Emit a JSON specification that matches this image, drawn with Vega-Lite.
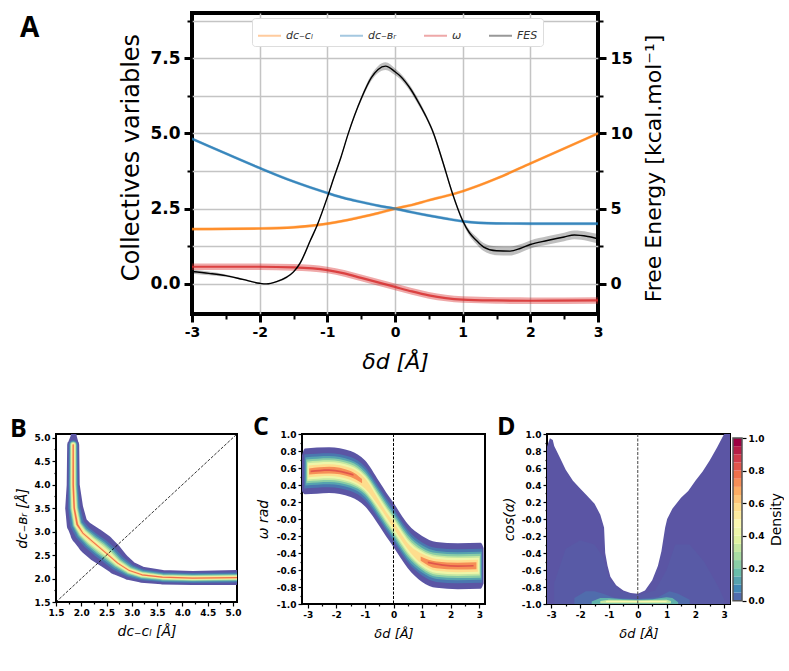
{"$schema":"https://vega.github.io/schema/vega-lite/v6.json","background":"white","padding":{"left":9,"top":9,"right":0,"bottom":0},"bounds":"flush","spacing":421,
"config":{"view":{"continuousWidth":200,"continuousHeight":200},"font":"DejaVu Sans","axis":{"labelFont":"DejaVu Sans","labelFontWeight":"bold","titleFont":"DejaVu Sans","titleFontWeight":"normal","labelColor":"black","titleColor":"black","tickColor":"black","domain":false,"grid":false,"labelOverlap":false,"labelBound":false,"labelFlush":false,"tickCount":60},"title":{"font":"Open Sans","fontWeight":"bold","color":"black","anchor":"start","frame":"group","offset":0,"baseline":"alphabetic"}},
"datasets":{
"cv":[
{"x":-3,"s":"dᴄ₋ᴄₗ","v":1.82,"lo":1.77,"hi":1.87},{"x":-2,"s":"dᴄ₋ᴄₗ","v":1.84,"lo":1.79,"hi":1.89},{"x":-1.5,"s":"dᴄ₋ᴄₗ","v":1.88,"lo":1.83,"hi":1.93},{"x":-1,"s":"dᴄ₋ᴄₗ","v":2.0,"lo":1.95,"hi":2.05},{"x":-0.75,"s":"dᴄ₋ᴄₗ","v":2.1,"lo":2.05,"hi":2.15},{"x":-0.5,"s":"dᴄ₋ᴄₗ","v":2.22,"lo":2.17,"hi":2.27},{"x":-0.25,"s":"dᴄ₋ᴄₗ","v":2.35,"lo":2.3,"hi":2.4},{"x":0,"s":"dᴄ₋ᴄₗ","v":2.5,"lo":2.45,"hi":2.55},{"x":0.25,"s":"dᴄ₋ᴄₗ","v":2.62,"lo":2.57,"hi":2.67},{"x":0.5,"s":"dᴄ₋ᴄₗ","v":2.78,"lo":2.73,"hi":2.83},{"x":0.75,"s":"dᴄ₋ᴄₗ","v":2.92,"lo":2.87,"hi":2.97},{"x":1,"s":"dᴄ₋ᴄₗ","v":3.08,"lo":3.03,"hi":3.13},{"x":1.5,"s":"dᴄ₋ᴄₗ","v":3.5,"lo":3.45,"hi":3.55},{"x":2,"s":"dᴄ₋ᴄₗ","v":4.0,"lo":3.95,"hi":4.05},{"x":2.5,"s":"dᴄ₋ᴄₗ","v":4.5,"lo":4.45,"hi":4.55},{"x":3,"s":"dᴄ₋ᴄₗ","v":5.0,"lo":4.95,"hi":5.05},
{"x":-3,"s":"dᴄ₋ʙᵣ","v":4.82,"lo":4.77,"hi":4.87},{"x":-2.5,"s":"dᴄ₋ʙᵣ","v":4.33,"lo":4.28,"hi":4.38},{"x":-2,"s":"dᴄ₋ʙᵣ","v":3.85,"lo":3.8,"hi":3.9},{"x":-1.5,"s":"dᴄ₋ʙᵣ","v":3.4,"lo":3.35,"hi":3.45},{"x":-1,"s":"dᴄ₋ʙᵣ","v":3.02,"lo":2.97,"hi":3.07},{"x":-0.75,"s":"dᴄ₋ʙᵣ","v":2.85,"lo":2.8,"hi":2.9},{"x":-0.5,"s":"dᴄ₋ʙᵣ","v":2.72,"lo":2.67,"hi":2.77},{"x":-0.25,"s":"dᴄ₋ʙᵣ","v":2.6,"lo":2.55,"hi":2.65},{"x":0,"s":"dᴄ₋ʙᵣ","v":2.5,"lo":2.45,"hi":2.55},{"x":0.25,"s":"dᴄ₋ʙᵣ","v":2.38,"lo":2.33,"hi":2.43},{"x":0.5,"s":"dᴄ₋ʙᵣ","v":2.27,"lo":2.22,"hi":2.32},{"x":0.75,"s":"dᴄ₋ʙᵣ","v":2.17,"lo":2.12,"hi":2.22},{"x":1,"s":"dᴄ₋ʙᵣ","v":2.08,"lo":2.03,"hi":2.13},{"x":1.5,"s":"dᴄ₋ʙᵣ","v":2.01,"lo":1.96,"hi":2.06},{"x":2,"s":"dᴄ₋ʙᵣ","v":2.0,"lo":1.95,"hi":2.05},{"x":3,"s":"dᴄ₋ʙᵣ","v":2.0,"lo":1.95,"hi":2.05},
{"x":-3,"s":"ω","v":0.57,"lo":0.46,"hi":0.68},{"x":-2,"s":"ω","v":0.57,"lo":0.46,"hi":0.68},{"x":-1.5,"s":"ω","v":0.55,"lo":0.44,"hi":0.66},{"x":-1,"s":"ω","v":0.46,"lo":0.35,"hi":0.57},{"x":-0.75,"s":"ω","v":0.35,"lo":0.24,"hi":0.46},{"x":-0.5,"s":"ω","v":0.2,"lo":0.09,"hi":0.31},{"x":-0.25,"s":"ω","v":0.05,"lo":-0.06,"hi":0.16},{"x":0,"s":"ω","v":-0.1,"lo":-0.21,"hi":0.01},{"x":0.25,"s":"ω","v":-0.25,"lo":-0.36,"hi":-0.14},{"x":0.5,"s":"ω","v":-0.38,"lo":-0.49,"hi":-0.27},{"x":0.75,"s":"ω","v":-0.47,"lo":-0.58,"hi":-0.36},{"x":1,"s":"ω","v":-0.52,"lo":-0.63,"hi":-0.41},{"x":1.5,"s":"ω","v":-0.55,"lo":-0.66,"hi":-0.44},{"x":2,"s":"ω","v":-0.56,"lo":-0.67,"hi":-0.45},{"x":3,"s":"ω","v":-0.55,"lo":-0.66,"hi":-0.44}],
"fes":[
{"x":-3,"s":"FES","v":0.82,"lo":0.68,"hi":0.96},{"x":-2.75,"s":"FES","v":0.7,"lo":0.58,"hi":0.82},{"x":-2.5,"s":"FES","v":0.55,"lo":0.47,"hi":0.63},{"x":-2.25,"s":"FES","v":0.3,"lo":0.24,"hi":0.36},{"x":-2,"s":"FES","v":0.04,"lo":0,"hi":0.08},{"x":-1.9,"s":"FES","v":0,"lo":-0.03,"hi":0.03},{"x":-1.75,"s":"FES","v":0.15,"lo":0.1,"hi":0.2},{"x":-1.6,"s":"FES","v":0.45,"lo":0.38,"hi":0.52},{"x":-1.5,"s":"FES","v":0.8,"lo":0.72,"hi":0.88},{"x":-1.4,"s":"FES","v":1.4,"lo":1.3,"hi":1.5},{"x":-1.25,"s":"FES","v":2.9,"lo":2.8,"hi":3.0},{"x":-1.15,"s":"FES","v":3.9,"lo":3.8,"hi":4.0},{"x":-1,"s":"FES","v":5.75,"lo":5.65,"hi":5.85},{"x":-0.9,"s":"FES","v":7.1,"lo":7,"hi":7.2},{"x":-0.8,"s":"FES","v":8.4,"lo":8.3,"hi":8.5},{"x":-0.69,"s":"FES","v":10,"lo":9.9,"hi":10.1},{"x":-0.5,"s":"FES","v":12.3,"lo":12.15,"hi":12.45},{"x":-0.35,"s":"FES","v":13.7,"lo":13.5,"hi":13.9},{"x":-0.25,"s":"FES","v":14.25,"lo":14.02,"hi":14.48},{"x":-0.14,"s":"FES","v":14.47,"lo":14.22,"hi":14.72},{"x":0,"s":"FES","v":14.1,"lo":13.88,"hi":14.32},{"x":0.08,"s":"FES","v":13.8,"lo":13.6,"hi":14},{"x":0.23,"s":"FES","v":12.95,"lo":12.75,"hi":13.15},{"x":0.33,"s":"FES","v":12.2,"lo":12,"hi":12.4},{"x":0.45,"s":"FES","v":11.2,"lo":11.05,"hi":11.35},{"x":0.57,"s":"FES","v":10,"lo":9.85,"hi":10.15},{"x":0.7,"s":"FES","v":8.2,"lo":8.05,"hi":8.35},{"x":0.85,"s":"FES","v":6,"lo":5.85,"hi":6.15},{"x":1,"s":"FES","v":4.2,"lo":4.05,"hi":4.35},{"x":1.1,"s":"FES","v":3.4,"lo":3.2,"hi":3.6},{"x":1.2,"s":"FES","v":2.9,"lo":2.65,"hi":3.15},{"x":1.31,"s":"FES","v":2.45,"lo":2.18,"hi":2.72},{"x":1.5,"s":"FES","v":2.2,"lo":1.9,"hi":2.5},{"x":1.7,"s":"FES","v":2.18,"lo":1.88,"hi":2.48},{"x":1.85,"s":"FES","v":2.35,"lo":2.07,"hi":2.63},{"x":2,"s":"FES","v":2.62,"lo":2.35,"hi":2.89},{"x":2.25,"s":"FES","v":2.88,"lo":2.6,"hi":3.16},{"x":2.5,"s":"FES","v":3.12,"lo":2.84,"hi":3.4},{"x":2.65,"s":"FES","v":3.25,"lo":2.96,"hi":3.54},{"x":2.85,"s":"FES","v":3.15,"lo":2.85,"hi":3.45},{"x":3,"s":"FES","v":3.0,"lo":2.68,"hi":3.32}],
"trail":[
{"i":0,"x":1.85,"y":5.04,"l":0.01,"w":0.12},{"i":1,"x":1.84,"y":4.85,"l":0.01,"w":0.24},{"i":2,"x":1.84,"y":4,"l":0.01,"w":0.26},{"i":3,"x":1.86,"y":3.5,"l":0.01,"w":0.36},{"i":4,"x":1.92,"y":3.15,"l":0.01,"w":0.42},{"i":5,"x":2.03,"y":2.97,"l":0.01,"w":0.5},{"i":6,"x":2.2,"y":2.8,"l":0.01,"w":0.58},{"i":7,"x":2.38,"y":2.65,"l":0.01,"w":0.6},{"i":8,"x":2.55,"y":2.5,"l":0.01,"w":0.55},{"i":9,"x":2.72,"y":2.33,"l":0.01,"w":0.48},{"i":10,"x":2.95,"y":2.17,"l":0.01,"w":0.38},{"i":11,"x":3.2,"y":2.08,"l":0.01,"w":0.32},{"i":12,"x":3.6,"y":2.03,"l":0.01,"w":0.29},{"i":13,"x":4.2,"y":2.01,"l":0.01,"w":0.28},{"i":14,"x":5.1,"y":2.02,"l":0.01,"w":0.3},
{"i":1,"x":1.84,"y":4.85,"l":0.07,"w":0.18},{"i":2,"x":1.84,"y":4,"l":0.07,"w":0.19},{"i":3,"x":1.86,"y":3.5,"l":0.07,"w":0.24},{"i":4,"x":1.92,"y":3.15,"l":0.07,"w":0.28},{"i":5,"x":2.03,"y":2.97,"l":0.07,"w":0.32},{"i":6,"x":2.2,"y":2.8,"l":0.07,"w":0.36},{"i":7,"x":2.38,"y":2.65,"l":0.07,"w":0.38},{"i":8,"x":2.55,"y":2.5,"l":0.07,"w":0.36},{"i":9,"x":2.72,"y":2.33,"l":0.07,"w":0.32},{"i":10,"x":2.95,"y":2.17,"l":0.07,"w":0.26},{"i":11,"x":3.2,"y":2.08,"l":0.07,"w":0.22},{"i":12,"x":3.6,"y":2.03,"l":0.07,"w":0.2},{"i":13,"x":4.2,"y":2.01,"l":0.07,"w":0.2},{"i":14,"x":5.1,"y":2.02,"l":0.07,"w":0.2},
{"i":1,"x":1.84,"y":4.85,"l":0.15,"w":0.14},{"i":2,"x":1.84,"y":4,"l":0.15,"w":0.16},{"i":3,"x":1.86,"y":3.5,"l":0.15,"w":0.18},{"i":4,"x":1.92,"y":3.15,"l":0.15,"w":0.2},{"i":5,"x":2.03,"y":2.97,"l":0.15,"w":0.24},{"i":6,"x":2.2,"y":2.8,"l":0.15,"w":0.28},{"i":7,"x":2.38,"y":2.65,"l":0.15,"w":0.3},{"i":8,"x":2.55,"y":2.5,"l":0.15,"w":0.28},{"i":9,"x":2.72,"y":2.33,"l":0.15,"w":0.24},{"i":10,"x":2.95,"y":2.17,"l":0.15,"w":0.2},{"i":11,"x":3.2,"y":2.08,"l":0.15,"w":0.17},{"i":12,"x":3.6,"y":2.03,"l":0.15,"w":0.16},{"i":13,"x":4.2,"y":2.01,"l":0.15,"w":0.15},{"i":14,"x":5.1,"y":2.02,"l":0.15,"w":0.15},
{"i":1,"x":1.84,"y":4.85,"l":0.25,"w":0.12},{"i":2,"x":1.84,"y":4,"l":0.25,"w":0.13},{"i":3,"x":1.86,"y":3.5,"l":0.25,"w":0.15},{"i":4,"x":1.92,"y":3.15,"l":0.25,"w":0.16},{"i":5,"x":2.03,"y":2.97,"l":0.25,"w":0.19},{"i":6,"x":2.2,"y":2.8,"l":0.25,"w":0.22},{"i":7,"x":2.38,"y":2.65,"l":0.25,"w":0.24},{"i":8,"x":2.55,"y":2.5,"l":0.25,"w":0.22},{"i":9,"x":2.72,"y":2.33,"l":0.25,"w":0.18},{"i":10,"x":2.95,"y":2.17,"l":0.25,"w":0.15},{"i":11,"x":3.2,"y":2.08,"l":0.25,"w":0.13},{"i":12,"x":3.6,"y":2.03,"l":0.25,"w":0.12},{"i":13,"x":4.2,"y":2.01,"l":0.25,"w":0.12},{"i":14,"x":5.1,"y":2.02,"l":0.25,"w":0.12},
{"i":1,"x":1.84,"y":4.85,"l":0.35,"w":0.1},{"i":2,"x":1.84,"y":4,"l":0.35,"w":0.1},{"i":3,"x":1.86,"y":3.5,"l":0.35,"w":0.12},{"i":4,"x":1.92,"y":3.15,"l":0.35,"w":0.13},{"i":5,"x":2.03,"y":2.97,"l":0.35,"w":0.15},{"i":6,"x":2.2,"y":2.8,"l":0.35,"w":0.17},{"i":7,"x":2.38,"y":2.65,"l":0.35,"w":0.18},{"i":8,"x":2.55,"y":2.5,"l":0.35,"w":0.16},{"i":9,"x":2.72,"y":2.33,"l":0.35,"w":0.13},{"i":10,"x":2.95,"y":2.17,"l":0.35,"w":0.11},{"i":11,"x":3.2,"y":2.08,"l":0.35,"w":0.1},{"i":12,"x":3.6,"y":2.03,"l":0.35,"w":0.09},{"i":13,"x":4.2,"y":2.01,"l":0.35,"w":0.09},{"i":14,"x":5.1,"y":2.02,"l":0.35,"w":0.09},
{"i":1,"x":1.84,"y":4.85,"l":0.45,"w":0.08},{"i":2,"x":1.84,"y":4,"l":0.45,"w":0.08},{"i":3,"x":1.86,"y":3.5,"l":0.45,"w":0.09},{"i":4,"x":1.92,"y":3.15,"l":0.45,"w":0.1},{"i":5,"x":2.03,"y":2.97,"l":0.45,"w":0.11},{"i":6,"x":2.2,"y":2.8,"l":0.45,"w":0.12},{"i":7,"x":2.38,"y":2.65,"l":0.45,"w":0.12},{"i":8,"x":2.55,"y":2.5,"l":0.45,"w":0.11},{"i":9,"x":2.72,"y":2.33,"l":0.45,"w":0.09},{"i":10,"x":2.95,"y":2.17,"l":0.45,"w":0.08},{"i":11,"x":3.2,"y":2.08,"l":0.45,"w":0.07},{"i":12,"x":3.6,"y":2.03,"l":0.45,"w":0.07},{"i":13,"x":4.2,"y":2.01,"l":0.45,"w":0.07},{"i":14,"x":5.1,"y":2.02,"l":0.45,"w":0.07},
{"i":1,"x":1.84,"y":4.85,"l":0.6,"w":0.05},{"i":2,"x":1.84,"y":4,"l":0.6,"w":0.06},{"i":3,"x":1.86,"y":3.5,"l":0.6,"w":0.06},{"i":4,"x":1.92,"y":3.15,"l":0.6,"w":0.07},{"i":5,"x":2.03,"y":2.97,"l":0.6,"w":0.07},{"i":6,"x":2.2,"y":2.8,"l":0.6,"w":0.06},{"i":7,"x":2.38,"y":2.65,"l":0.6,"w":0.05},{"i":8,"x":2.55,"y":2.5,"l":0.6,"w":0.05},{"i":9,"x":2.72,"y":2.33,"l":0.6,"w":0.05},{"i":10,"x":2.95,"y":2.17,"l":0.6,"w":0.05},{"i":11,"x":3.2,"y":2.08,"l":0.6,"w":0.05},{"i":12,"x":3.6,"y":2.03,"l":0.6,"w":0.05},{"i":13,"x":4.2,"y":2.01,"l":0.6,"w":0.05},{"i":14,"x":5.1,"y":2.02,"l":0.6,"w":0.05},
{"i":1,"x":1.84,"y":4.85,"l":0.8,"w":0.025},{"i":2,"x":1.84,"y":4,"l":0.8,"w":0.03},{"i":3,"x":1.86,"y":3.5,"l":0.8,"w":0.03},{"i":4,"x":1.92,"y":3.15,"l":0.8,"w":0.035},{"i":5,"x":2.03,"y":2.97,"l":0.8,"w":0},{"i":9,"x":2.72,"y":2.33,"l":0.8,"w":0},{"i":10,"x":2.95,"y":2.17,"l":0.8,"w":0.02},{"i":11,"x":3.2,"y":2.08,"l":0.8,"w":0.025},{"i":12,"x":3.6,"y":2.03,"l":0.8,"w":0.025},{"i":13,"x":4.2,"y":2.01,"l":0.8,"w":0.025},{"i":14,"x":5.1,"y":2.02,"l":0.8,"w":0.025}],
"bandC":[
{"x":-3.2,"l":0.01,"a":0.33,"b":0.75},{"x":-3.1,"l":0.01,"a":0.29,"b":0.83},{"x":-2.25,"l":0.01,"a":0.305,"b":0.845},{"x":-1.5,"l":0.01,"a":0.26,"b":0.8},{"x":-1,"l":0.01,"a":0.15,"b":0.69},{"x":-0.5,"l":0.01,"a":-0.08,"b":0.44},{"x":-0.25,"l":0.01,"a":-0.21,"b":0.31},{"x":0,"l":0.01,"a":-0.33,"b":0.19},{"x":0.25,"l":0.01,"a":-0.46,"b":0.06},{"x":0.5,"l":0.01,"a":-0.58,"b":-0.06},{"x":1,"l":0.01,"a":-0.74,"b":-0.2},{"x":1.5,"l":0.01,"a":-0.81,"b":-0.27},{"x":2.25,"l":0.01,"a":-0.825,"b":-0.285},{"x":3.05,"l":0.01,"a":-0.82,"b":-0.28},{"x":3.15,"l":0.01,"a":-0.76,"b":-0.34},
{"x":-3.12,"l":0.07,"a":0.36,"b":0.76},{"x":-2.25,"l":0.07,"a":0.375,"b":0.775},{"x":-1.5,"l":0.07,"a":0.33,"b":0.73},{"x":-1,"l":0.07,"a":0.225,"b":0.615},{"x":-0.5,"l":0.07,"a":-0.01,"b":0.37},{"x":-0.25,"l":0.07,"a":-0.14,"b":0.24},{"x":0,"l":0.07,"a":-0.26,"b":0.12},{"x":0.25,"l":0.07,"a":-0.39,"b":-0.01},{"x":0.5,"l":0.07,"a":-0.51,"b":-0.13},{"x":1,"l":0.07,"a":-0.665,"b":-0.275},{"x":1.5,"l":0.07,"a":-0.74,"b":-0.34},{"x":2.25,"l":0.07,"a":-0.755,"b":-0.355},{"x":3.1,"l":0.07,"a":-0.75,"b":-0.35},
{"x":-3.08,"l":0.15,"a":0.395,"b":0.725},{"x":-2.25,"l":0.15,"a":0.41,"b":0.74},{"x":-1.5,"l":0.15,"a":0.365,"b":0.695},{"x":-1,"l":0.15,"a":0.26,"b":0.58},{"x":-0.5,"l":0.15,"a":0.025,"b":0.335},{"x":-0.25,"l":0.15,"a":-0.105,"b":0.205},{"x":0,"l":0.15,"a":-0.225,"b":0.085},{"x":0.25,"l":0.15,"a":-0.355,"b":-0.045},{"x":0.5,"l":0.15,"a":-0.475,"b":-0.165},{"x":1,"l":0.15,"a":-0.63,"b":-0.31},{"x":1.5,"l":0.15,"a":-0.705,"b":-0.375},{"x":2.25,"l":0.15,"a":-0.72,"b":-0.39},{"x":3.08,"l":0.15,"a":-0.715,"b":-0.385},
{"x":-3.05,"l":0.25,"a":0.42,"b":0.7},{"x":-2.25,"l":0.25,"a":0.435,"b":0.715},{"x":-1.5,"l":0.25,"a":0.39,"b":0.67},{"x":-1,"l":0.25,"a":0.29,"b":0.55},{"x":-0.5,"l":0.25,"a":0.055,"b":0.305},{"x":-0.25,"l":0.25,"a":-0.075,"b":0.175},{"x":0,"l":0.25,"a":-0.195,"b":0.055},{"x":0.25,"l":0.25,"a":-0.325,"b":-0.075},{"x":0.5,"l":0.25,"a":-0.445,"b":-0.195},{"x":1,"l":0.25,"a":-0.6,"b":-0.34},{"x":1.5,"l":0.25,"a":-0.68,"b":-0.4},{"x":2.25,"l":0.25,"a":-0.695,"b":-0.415},{"x":3.05,"l":0.25,"a":-0.69,"b":-0.41},
{"x":-3.02,"l":0.35,"a":0.445,"b":0.675},{"x":-2.25,"l":0.35,"a":0.46,"b":0.69},{"x":-1.5,"l":0.35,"a":0.415,"b":0.645},{"x":-1,"l":0.35,"a":0.315,"b":0.525},{"x":-0.5,"l":0.35,"a":0.085,"b":0.275},{"x":-0.25,"l":0.35,"a":-0.045,"b":0.145},{"x":0,"l":0.35,"a":-0.165,"b":0.025},{"x":0.25,"l":0.35,"a":-0.295,"b":-0.105},{"x":0.5,"l":0.35,"a":-0.415,"b":-0.225},{"x":1,"l":0.35,"a":-0.575,"b":-0.365},{"x":1.5,"l":0.35,"a":-0.655,"b":-0.425},{"x":2.25,"l":0.35,"a":-0.67,"b":-0.44},{"x":3.02,"l":0.35,"a":-0.665,"b":-0.435},
{"x":-3,"l":0.45,"a":0.465,"b":0.655},{"x":-2.25,"l":0.45,"a":0.48,"b":0.67},{"x":-1.5,"l":0.45,"a":0.435,"b":0.625},{"x":-1,"l":0.45,"a":0.335,"b":0.505},{"x":-0.5,"l":0.45,"a":0.11,"b":0.25},{"x":-0.25,"l":0.45,"a":-0.02,"b":0.12},{"x":0,"l":0.45,"a":-0.14,"b":0},{"x":0.25,"l":0.45,"a":-0.27,"b":-0.13},{"x":0.5,"l":0.45,"a":-0.39,"b":-0.25},{"x":1,"l":0.45,"a":-0.555,"b":-0.385},{"x":1.5,"l":0.45,"a":-0.635,"b":-0.445},{"x":2.25,"l":0.45,"a":-0.65,"b":-0.46},{"x":3,"l":0.45,"a":-0.645,"b":-0.455},
{"x":-2.97,"l":0.6,"a":0.49,"b":0.63},{"x":-2.25,"l":0.6,"a":0.505,"b":0.645},{"x":-1.5,"l":0.6,"a":0.46,"b":0.6},{"x":-1,"l":0.6,"a":0.36,"b":0.48},{"x":-0.5,"l":0.6,"a":0.145,"b":0.215},{"x":-0.25,"l":0.6,"a":0.02,"b":0.08},{"x":0,"l":0.6,"a":-0.105,"b":-0.035},{"x":0.25,"l":0.6,"a":-0.235,"b":-0.165},{"x":0.5,"l":0.6,"a":-0.355,"b":-0.285},{"x":1,"l":0.6,"a":-0.53,"b":-0.41},{"x":1.5,"l":0.6,"a":-0.61,"b":-0.47},{"x":2.25,"l":0.6,"a":-0.625,"b":-0.485},{"x":2.95,"l":0.6,"a":-0.62,"b":-0.48},
{"x":-2.95,"l":0.75,"a":0.525,"b":0.595},{"x":-2.25,"l":0.75,"a":0.535,"b":0.615},{"x":-1.5,"l":0.75,"a":0.495,"b":0.565},{"x":-1.1,"l":0.75,"a":0.42,"b":0.47},
{"x":0.95,"l":0.7501,"a":-0.49,"b":-0.44},{"x":1.5,"l":0.7501,"a":-0.58,"b":-0.5},{"x":2.25,"l":0.7501,"a":-0.595,"b":-0.515},{"x":2.9,"l":0.7501,"a":-0.59,"b":-0.51},
{"x":-2.9,"l":0.85,"a":0.55,"b":0.57},{"x":-2.25,"l":0.85,"a":0.565,"b":0.585},{"x":-1.4,"l":0.85,"a":0.51,"b":0.53},
{"x":1.2,"l":0.8501,"a":-0.52,"b":-0.5},{"x":2.25,"l":0.8501,"a":-0.565,"b":-0.545},{"x":2.8,"l":0.8501,"a":-0.56,"b":-0.54}],
"bandD":[
{"x":-3.15,"l":0.01,"a":-1,"b":0.85},{"x":-3.05,"l":0.01,"a":-1,"b":0.95},{"x":-2.95,"l":0.01,"a":-1,"b":0.93},{"x":-2.9,"l":0.01,"a":-1,"b":0.86},{"x":-2.7,"l":0.01,"a":-1,"b":0.72},{"x":-2.5,"l":0.01,"a":-1,"b":0.58},{"x":-2.25,"l":0.01,"a":-1,"b":0.45},{"x":-2,"l":0.01,"a":-1,"b":0.36},{"x":-1.75,"l":0.01,"a":-1,"b":0.27},{"x":-1.5,"l":0.01,"a":-1,"b":0.18},{"x":-1.3,"l":0.01,"a":-1,"b":0.05},{"x":-1.17,"l":0.01,"a":-1,"b":-0.1},{"x":-1.13,"l":0.01,"a":-1,"b":-0.4},{"x":-1.05,"l":0.01,"a":-1,"b":-0.55},{"x":-0.95,"l":0.01,"a":-1,"b":-0.68},{"x":-0.75,"l":0.01,"a":-1,"b":-0.78},{"x":-0.5,"l":0.01,"a":-1,"b":-0.84},{"x":-0.25,"l":0.01,"a":-1,"b":-0.87},{"x":0,"l":0.01,"a":-1,"b":-0.88},{"x":0.25,"l":0.01,"a":-1,"b":-0.84},{"x":0.5,"l":0.01,"a":-1,"b":-0.72},{"x":0.7,"l":0.01,"a":-1,"b":-0.55},{"x":0.82,"l":0.01,"a":-1,"b":-0.38},{"x":0.95,"l":0.01,"a":-1,"b":-0.1},{"x":1.02,"l":0.01,"a":-1,"b":0},{"x":1.2,"l":0.01,"a":-1,"b":0.12},{"x":1.5,"l":0.01,"a":-1,"b":0.25},{"x":1.75,"l":0.01,"a":-1,"b":0.33},{"x":2,"l":0.01,"a":-1,"b":0.45},{"x":2.25,"l":0.01,"a":-1,"b":0.56},{"x":2.5,"l":0.01,"a":-1,"b":0.69},{"x":2.75,"l":0.01,"a":-1,"b":0.84},{"x":2.95,"l":0.01,"a":-1,"b":0.97},{"x":3,"l":0.01,"a":-1,"b":1},{"x":3.2,"l":0.01,"a":-1,"b":1},
{"x":-2.9,"l":0.02,"a":-1,"b":-0.75},{"x":-2.5,"l":0.02,"a":-1,"b":-0.35},{"x":-2,"l":0.02,"a":-1,"b":-0.25},{"x":-1.5,"l":0.02,"a":-1,"b":-0.3},{"x":-1.2,"l":0.02,"a":-1,"b":-0.45},{"x":-1,"l":0.02,"a":-1,"b":-0.7},{"x":-0.6,"l":0.02,"a":-1,"b":-0.85},{"x":0,"l":0.02,"a":-1,"b":-0.9},{"x":0.6,"l":0.02,"a":-1,"b":-0.84},{"x":1,"l":0.02,"a":-1,"b":-0.6},{"x":1.3,"l":0.02,"a":-1,"b":-0.3},{"x":1.8,"l":0.02,"a":-1,"b":-0.3},{"x":2.3,"l":0.02,"a":-1,"b":-0.5},{"x":2.8,"l":0.02,"a":-1,"b":-0.8},{"x":3,"l":0.02,"a":-1,"b":-0.95},
{"x":-2.2,"l":0.05,"a":-1,"b":-0.93},{"x":-1.8,"l":0.05,"a":-1,"b":-0.85},{"x":-1.5,"l":0.05,"a":-1,"b":-0.85},{"x":-1.2,"l":0.05,"a":-1,"b":-0.88},{"x":-0.8,"l":0.05,"a":-1,"b":-0.93},{"x":0,"l":0.05,"a":-1,"b":-0.94},{"x":0.7,"l":0.05,"a":-1,"b":-0.92},{"x":1.1,"l":0.05,"a":-1,"b":-0.85},{"x":1.4,"l":0.05,"a":-1,"b":-0.88},{"x":1.8,"l":0.05,"a":-1,"b":-0.95},
{"x":-1.6,"l":0.18,"a":-1,"b":-0.97},{"x":-1.3,"l":0.18,"a":-1,"b":-0.93},{"x":-1,"l":0.18,"a":-1,"b":-0.93},{"x":-0.5,"l":0.18,"a":-1,"b":-0.945},{"x":0,"l":0.18,"a":-1,"b":-0.95},{"x":0.5,"l":0.18,"a":-1,"b":-0.945},{"x":1,"l":0.18,"a":-1,"b":-0.92},{"x":1.2,"l":0.18,"a":-1,"b":-0.93},{"x":1.4,"l":0.18,"a":-1,"b":-0.98},
{"x":-1.3,"l":0.35,"a":-0.99,"b":-0.965},{"x":-1,"l":0.35,"a":-0.99,"b":-0.95},{"x":0,"l":0.35,"a":-0.99,"b":-0.955},{"x":1,"l":0.35,"a":-0.99,"b":-0.95},{"x":1.15,"l":0.35,"a":-0.99,"b":-0.965},
{"x":-1.1,"l":0.5,"a":-0.98,"b":-0.965},{"x":0,"l":0.5,"a":-0.98,"b":-0.965},{"x":1,"l":0.5,"a":-0.98,"b":-0.965}],
"cbar":[{"a":0,"b":0.05},{"a":0.05,"b":0.1},{"a":0.1,"b":0.15},{"a":0.15,"b":0.2},{"a":0.2,"b":0.25},{"a":0.25,"b":0.3},{"a":0.3,"b":0.35},{"a":0.35,"b":0.4},{"a":0.4,"b":0.45},{"a":0.45,"b":0.5},{"a":0.5,"b":0.55},{"a":0.55,"b":0.6},{"a":0.6,"b":0.65},{"a":0.65,"b":0.7},{"a":0.7,"b":0.75},{"a":0.75,"b":0.8},{"a":0.8,"b":0.85},{"a":0.85,"b":0.9},{"a":0.9,"b":0.95},{"a":0.95,"b":1}]
},
"vconcat":[
{"bounds":"flush","spacing":0,"hconcat":[
{"width":136,"height":10,"view":{"stroke":null},"data":{"values":[]},"mark":{"type":"point","opacity":0},"encoding":{}},
{"width":406,"height":301,"view":{"stroke":"black","strokeWidth":4,"fill":null},
"title":{"text":"A","fontSize":28,"dx":-172,"dy":35},
"resolve":{"scale":{"y":"independent"}},
"layer":[
{"data":{"name":"cv"},"layer":[
{"mark":{"type":"line","strokeWidth":2.2,"opacity":0.8,"interpolate":"monotone","clip":true},"encoding":{
"x":{"field":"x","type":"quantitative","scale":{"domain":[-3,3],"nice":false},"title":"δd [Å]","axis":{"labelOverlap":false,"values":[-3,-2.5,-2,-1.5,-1,-0.5,0,0.5,1,1.5,2,2.5,3],"labelExpr":"datum.value%1==0?''+datum.value:''","labelFontSize":14,"labelPadding":3,"labelAngle":0,"titleFontSize":22,"titleFontStyle":"italic","titlePadding":12,"grid":true,"gridColor":"#c4c4c4","gridWidth":1.5,"gridOpacity":{"condition":{"test":"datum.value%1==0 && abs(datum.value)<3","value":1},"value":0},"tickWidth":{"condition":{"test":"datum.value%1==0","value":3},"value":2},"tickSize":{"condition":{"test":"datum.value%1==0","value":8},"value":5}}},
"y":{"field":"v","type":"quantitative","scale":{"domain":[-1,9],"nice":false,"zero":false},"title":"Collectives variables","axis":{"labelOverlap":false,"values":[0,1.25,2.5,3.75,5,6.25,7.5,8.75],"labelExpr":"datum.value%2.5==0?format(datum.value,'.1f'):''","labelFontSize":17,"labelPadding":4,"titleFontSize":24,"titlePadding":6,"titleY":144,"grid":true,"gridColor":"#c4c4c4","gridWidth":1.5,"tickWidth":{"condition":{"test":"datum.value%2.5==0","value":3},"value":2},"tickSize":{"condition":{"test":"datum.value%2.5==0","value":8},"value":5}}},
"color":{"field":"s","type":"nominal","scale":{"domain":["dᴄ₋ᴄₗ","dᴄ₋ʙᵣ","ω","FES"],"range":["#ff7f0e","#1f77b4","#d62728","#000000"]},"legend":{"orient":"none","legendX":196,"legendY":5,"direction":"horizontal","columns":4,"title":null,"symbolType":"stroke","symbolSize":529,"symbolStrokeWidth":2,"labelFontSize":11,"labelFont":"DejaVu Sans","labelFontStyle":"italic","labelColor":"#333","columnPadding":23,"fillColor":"white","strokeColor":"#dddddd","padding":5,"cornerRadius":3,"symbolOpacity":1}}}},
{"mark":{"type":"area","opacity":0.4,"interpolate":"monotone","clip":true},"encoding":{
"x":{"field":"x","type":"quantitative"},"y":{"field":"lo","type":"quantitative"},"y2":{"field":"hi"},"color":{"field":"s","type":"nominal"}}}
]},
{"data":{"name":"fes"},"layer":[
{"mark":{"type":"line","strokeWidth":1.4,"interpolate":"monotone","clip":true},"encoding":{
"x":{"field":"x","type":"quantitative"},
"y":{"field":"v","type":"quantitative","scale":{"domain":[-2,18],"nice":false,"zero":false},"title":"Free Energy [kcal.mol⁻¹]","axis":{"labelOverlap":false,"orient":"right","values":[0,2.5,5,7.5,10,12.5,15,17.5],"labelExpr":"datum.value%5==0?''+datum.value:''","labelFontSize":16,"labelPadding":4,"titleFontSize":22,"titlePadding":11,"titleAngle":270,"titleBaseline":"top","titleY":155,"tickWidth":{"condition":{"test":"datum.value%5==0","value":3},"value":2},"tickSize":{"condition":{"test":"datum.value%5==0","value":8},"value":5}}},
"color":{"field":"s","type":"nominal"}}},
{"mark":{"type":"area","color":"black","opacity":0.25,"interpolate":"monotone","clip":true},"encoding":{
"x":{"field":"x","type":"quantitative"},"y":{"field":"lo","type":"quantitative"},"y2":{"field":"hi"}}}
]}
]}
]},
{"bounds":"flush","spacing":65,"hconcat":[
{"width":181,"height":168,"view":{"stroke":"black","strokeWidth":2,"fill":null},
"title":{"text":"B","fontSize":25,"dx":-46,"dy":14},
"layer":[
{"data":{"name":"trail"},"mark":{"type":"trail","clip":true},"encoding":{
"x":{"field":"x","type":"quantitative","scale":{"domain":[1.5,5.08],"nice":false,"zero":false},"title":"dᴄ₋ᴄₗ [Å]","axis":{"labelOverlap":false,"values":[1.5,1.75,2,2.25,2.5,2.75,3,3.25,3.5,3.75,4,4.25,4.5,4.75,5],"labelExpr":"datum.value%0.5==0?format(datum.value,'.1f'):''","labelFontSize":9,"labelPadding":2,"titleFontSize":14,"titleFontStyle":"italic","titlePadding":7,"tickWidth":1.2,"tickSize":{"condition":{"test":"datum.value%0.5==0","value":4},"value":2}}},
"y":{"field":"y","type":"quantitative","scale":{"domain":[1.5,5.08],"nice":false,"zero":false},"title":"dᴄ₋ʙᵣ [Å]","axis":{"labelOverlap":false,"values":[1.5,1.75,2,2.25,2.5,2.75,3,3.25,3.5,3.75,4,4.25,4.5,4.75,5],"labelExpr":"datum.value%0.5==0?format(datum.value,'.1f'):''","labelFontSize":9,"labelPadding":2,"titleFontSize":14,"titleFontStyle":"italic","titlePadding":5,"tickWidth":1.2,"tickSize":{"condition":{"test":"datum.value%0.5==0","value":4},"value":2}}},
"order":{"field":"i","type":"quantitative"},"detail":{"field":"l"},
"size":{"field":"w","type":"quantitative","legend":null,"scale":{"domain":[0,1],"range":[0,50]}},
"color":{"field":"l","type":"quantitative","legend":null,"scale":{"domain":[0,1],"scheme":"spectral","reverse":true}}}},
{"data":{"values":[{"x":1.5,"y":1.5},{"x":5.08,"y":5.08}]},"mark":{"type":"line","color":"black","strokeWidth":0.8,"strokeDash":[3,1.5]},"encoding":{"x":{"field":"x","type":"quantitative"},"y":{"field":"y","type":"quantitative"}}}
]},
{"bounds":"flush","spacing":62,"hconcat":[
{"width":183,"height":170,"view":{"stroke":"black","strokeWidth":2,"fill":null},
"title":{"text":"C","fontSize":25,"dx":-49,"dy":14},
"layer":[
{"data":{"name":"bandC"},"mark":{"type":"area","interpolate":"monotone","clip":true},"encoding":{
"x":{"field":"x","type":"quantitative","scale":{"domain":[-3.2,3.2],"nice":false},"title":"δd [Å]","axis":{"labelOverlap":false,"values":[-3,-2.5,-2,-1.5,-1,-0.5,0,0.5,1,1.5,2,2.5,3],"labelExpr":"datum.value%1==0?''+datum.value:''","labelFontSize":9,"labelPadding":2,"titleFontSize":13,"titleFontStyle":"italic","titlePadding":8,"tickWidth":1.2,"tickSize":{"condition":{"test":"datum.value%1==0","value":4},"value":2}}},
"y":{"field":"a","type":"quantitative","scale":{"domain":[-1,1],"nice":false},"title":"ω rad","axis":{"labelOverlap":false,"values":[-1,-0.9,-0.8,-0.7,-0.6,-0.5,-0.4,-0.3,-0.2,-0.1,0,0.1,0.2,0.3,0.4,0.5,0.6,0.7,0.8,0.9,1],"labelExpr":"abs(round(datum.value*10))%2==0?(datum.value==0?'-0.0':replace(format(datum.value,'.1f'),'−','-')):''","labelFontSize":9,"labelPadding":2,"titleFontSize":14,"titleFontStyle":"italic","titlePadding":6,"tickWidth":1.2,"tickSize":{"condition":{"test":"abs(round(datum.value*10))%2==0","value":4},"value":2}}},
"y2":{"field":"b"},"detail":{"field":"l"},
"color":{"field":"l","type":"quantitative","legend":null,"scale":{"domain":[0,1],"scheme":"spectral","reverse":true}}}},
{"data":{"values":[{"x":0}]},"mark":{"type":"rule","color":"black","strokeWidth":1,"strokeDash":[3,1.5]},"encoding":{"x":{"field":"x","type":"quantitative"}}}
]},
{"bounds":"flush","spacing":3,"hconcat":[
{"width":183,"height":170,"view":{"stroke":"black","strokeWidth":2,"fill":null},
"title":{"text":"D","fontSize":25,"dx":-50,"dy":14},
"layer":[
{"data":{"name":"bandD"},"mark":{"type":"area","clip":true},"encoding":{
"x":{"field":"x","type":"quantitative","scale":{"domain":[-3.15,3.2],"nice":false},"title":"δd [Å]","axis":{"labelOverlap":false,"values":[-3,-2.5,-2,-1.5,-1,-0.5,0,0.5,1,1.5,2,2.5,3],"labelExpr":"datum.value%1==0?''+datum.value:''","labelFontSize":9,"labelPadding":2,"titleFontSize":13,"titleFontStyle":"italic","titlePadding":8,"tickWidth":1.2,"tickSize":{"condition":{"test":"datum.value%1==0","value":4},"value":2}}},
"y":{"field":"a","type":"quantitative","scale":{"domain":[-1,1],"nice":false},"title":"cos(α)","axis":{"labelOverlap":false,"values":[-1,-0.9,-0.8,-0.7,-0.6,-0.5,-0.4,-0.3,-0.2,-0.1,0,0.1,0.2,0.3,0.4,0.5,0.6,0.7,0.8,0.9,1],"labelExpr":"abs(round(datum.value*10))%2==0?(datum.value==0?'-0.0':replace(format(datum.value,'.1f'),'−','-')):''","labelFontSize":9,"labelPadding":2,"titleFontSize":14,"titleFontStyle":"italic","titlePadding":5,"tickWidth":1.2,"tickSize":{"condition":{"test":"abs(round(datum.value*10))%2==0","value":4},"value":2}}},
"y2":{"field":"b"},"detail":{"field":"l"},
"color":{"field":"l","type":"quantitative","legend":null,"scale":{"domain":[0,1],"scheme":"spectral","reverse":true}}}},
{"data":{"values":[{"x":0}]},"mark":{"type":"rule","color":"#444","strokeWidth":1,"strokeDash":[3,1.5]},"encoding":{"x":{"field":"x","type":"quantitative"}}}
]},
{"width":9,"height":170,"view":{"stroke":null,"fill":null},
"layer":[
{"data":{"name":"cbar"},"mark":{"type":"rect"},"encoding":{
"y":{"field":"a","type":"quantitative","scale":{"domain":[-0.02,1.025],"nice":false,"zero":false},"title":"Density","axis":{"labelOverlap":false,"orient":"right","values":[0,0.2,0.4,0.6,0.8,1],"labelExpr":"format(datum.value,'.1f')","labelFontSize":9,"labelPadding":2,"titleFontSize":14,"titlePadding":6,"titleAngle":270,"titleBaseline":"top","tickWidth":1.2,"tickSize":4}},
"y2":{"field":"b"},
"color":{"field":"b","type":"quantitative","legend":null,"scale":{"domain":[0,1],"scheme":"spectral","reverse":true}}}},
{"data":{"values":[{"a":0,"b":1}]},"mark":{"type":"rect","fill":null,"stroke":"#555","strokeWidth":1.5},"encoding":{"y":{"field":"a","type":"quantitative"},"y2":{"field":"b"}}}
]}
]}
]}
]}
]}
